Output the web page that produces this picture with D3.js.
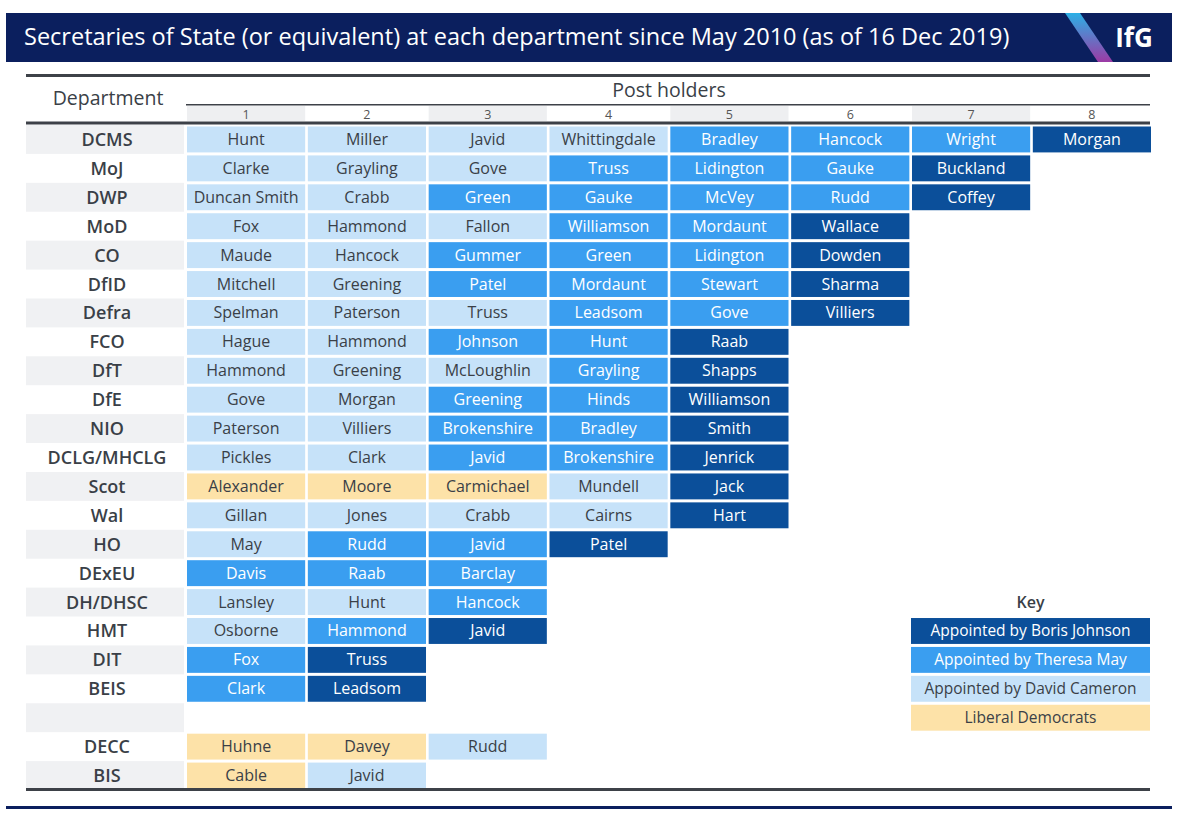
<!DOCTYPE html>
<html>
<head>
<meta charset="utf-8">
<script src="https://cdn.jsdelivr.net/npm/d3@7"></script>
<style>
  body { margin: 0; background: #fff; }
  svg { display: block; font-family: "Open Sans", sans-serif; }
</style>
</head>
<body>
<svg id="chart" width="1200" height="817"></svg>
<script>
// Departments, top to bottom ("" is the spacer row)
const departments = ["DCMS", "MoJ", "DWP", "MoD", "CO", "DfID", "Defra", "FCO", "DfT", "DfE",
  "NIO", "DCLG/MHCLG", "Scot", "Wal", "HO", "DExEU", "DH/DHSC", "HMT", "DIT", "BEIS", "", "DECC", "BIS"];

// Post holders per department, in order
const holders = [
  ["Hunt", "Miller", "Javid", "Whittingdale", "Bradley", "Hancock", "Wright", "Morgan"],
  ["Clarke", "Grayling", "Gove", "Truss", "Lidington", "Gauke", "Buckland"],
  ["Duncan Smith", "Crabb", "Green", "Gauke", "McVey", "Rudd", "Coffey"],
  ["Fox", "Hammond", "Fallon", "Williamson", "Mordaunt", "Wallace"],
  ["Maude", "Hancock", "Gummer", "Green", "Lidington", "Dowden"],
  ["Mitchell", "Greening", "Patel", "Mordaunt", "Stewart", "Sharma"],
  ["Spelman", "Paterson", "Truss", "Leadsom", "Gove", "Villiers"],
  ["Hague", "Hammond", "Johnson", "Hunt", "Raab"],
  ["Hammond", "Greening", "McLoughlin", "Grayling", "Shapps"],
  ["Gove", "Morgan", "Greening", "Hinds", "Williamson"],
  ["Paterson", "Villiers", "Brokenshire", "Bradley", "Smith"],
  ["Pickles", "Clark", "Javid", "Brokenshire", "Jenrick"],
  ["Alexander", "Moore", "Carmichael", "Mundell", "Jack"],
  ["Gillan", "Jones", "Crabb", "Cairns", "Hart"],
  ["May", "Rudd", "Javid", "Patel"],
  ["Davis", "Raab", "Barclay"],
  ["Lansley", "Hunt", "Hancock"],
  ["Osborne", "Hammond", "Javid"],
  ["Fox", "Truss"],
  ["Clark", "Leadsom"],
  [],
  ["Huhne", "Davey", "Rudd"],
  ["Cable", "Javid"]
];

// Who appointed each holder: B = Johnson, M = May, C = Cameron, L = Liberal Democrat
const appointedBy = [
  ["C", "C", "C", "C", "M", "M", "M", "B"],
  ["C", "C", "C", "M", "M", "M", "B"],
  ["C", "C", "M", "M", "M", "M", "B"],
  ["C", "C", "C", "M", "M", "B"],
  ["C", "C", "M", "M", "M", "B"],
  ["C", "C", "M", "M", "M", "B"],
  ["C", "C", "C", "M", "M", "B"],
  ["C", "C", "M", "M", "B"],
  ["C", "C", "C", "M", "B"],
  ["C", "C", "M", "M", "B"],
  ["C", "C", "M", "M", "B"],
  ["C", "C", "M", "M", "B"],
  ["L", "L", "L", "C", "B"],
  ["C", "C", "C", "C", "B"],
  ["C", "M", "M", "B"],
  ["M", "M", "M"],
  ["C", "C", "M"],
  ["C", "M", "B"],
  ["M", "B"],
  ["M", "B"],
  [],
  ["L", "L", "C"],
  ["L", "C"]
];

const postNumbers = [1, 2, 3, 4, 5, 6, 7, 8];

const keyCodes = ["B", "M", "C", "L"];
const keyLabels = ["Appointed by Boris Johnson", "Appointed by Theresa May", "Appointed by David Cameron", "Liberal Democrats"];

const fill = d3.scaleOrdinal().domain(keyCodes).range(["#0b4f9a", "#3a9ef0", "#c6e2f9", "#fde2a8"]);
const textFill = d3.scaleOrdinal().domain(keyCodes).range(["#ffffff", "#ffffff", "#3a3f47", "#3a3f47"]);

const svg = d3.select("#chart");

// title bar
svg.append("rect").attr("x", 6).attr("y", 13).attr("width", 1166).attr("height", 49).attr("fill", "#0b1f5e");
svg.append("text").attr("x", 24).attr("y", 45)
  .attr("fill", "#fff").attr("font-size", 23.5)
  .text("Secretaries of State (or equivalent) at each department since May 2010 (as of 16 Dec 2019)");

// logo
const grad = svg.append("defs").append("linearGradient").attr("id", "stripe")
  .attr("x1", 0).attr("y1", 0).attr("x2", 0).attr("y2", 1);
grad.append("stop").attr("offset", "0%").attr("stop-color", "#2bb0e6");
grad.append("stop").attr("offset", "100%").attr("stop-color", "#9c3aa5");
svg.append("path").attr("d", "M1065,13 L1080,13 L1113,62 L1098,62 Z").attr("fill", "url(#stripe)");
svg.append("text").attr("x", 1134).attr("y", 47).attr("text-anchor", "middle")
  .attr("fill", "#fff").attr("font-size", 26).attr("font-weight", 700).text("IfG");

// scales
const x = d3.scaleBand().domain(postNumbers).range([187, 1151]).paddingInner(0.022);
const y = d3.scaleBand().domain(d3.range(departments.length)).range([125, 790]);
const rowH = y.bandwidth();

// header
svg.append("text").attr("x", 108).attr("y", 105).attr("text-anchor", "middle")
  .attr("fill", "#3a3f47").attr("font-size", 19.5).attr("font-weight", 500).text("Department");
svg.append("text").attr("x", 669).attr("y", 97).attr("text-anchor", "middle")
  .attr("fill", "#3a3f47").attr("font-size", 19.5).attr("font-weight", 500).text("Post holders");

svg.selectAll(".numbg").data(postNumbers.filter(d => d % 2 === 1)).enter().append("rect")
  .attr("x", d => x(d)).attr("y", 106).attr("width", x.bandwidth()).attr("height", 15)
  .attr("fill", "#eeeff1");
svg.selectAll(".num").data(postNumbers).enter().append("text")
  .attr("x", d => x(d) + x.bandwidth() / 2).attr("y", 119).attr("text-anchor", "middle")
  .attr("fill", "#555").attr("font-size", 12.5).text(d => d);

// row label bands
svg.selectAll(".band").data(departments.map((d, i) => i).filter(i => i % 2 === 0)).enter().append("rect")
  .attr("x", 26).attr("y", i => y(i)).attr("width", 158).attr("height", rowH)
  .attr("fill", "#f0f1f3");
svg.selectAll(".dept").data(departments).enter().append("text")
  .attr("x", 107).attr("y", (d, i) => y(i) + rowH / 2 + 6.5).attr("text-anchor", "middle")
  .attr("fill", "#3a3f47").attr("font-size", 18).attr("font-weight", 600).text(d => d);

// cells
const cells = [];
holders.forEach((row, i) => row.forEach((name, j) => cells.push({ row: i, col: j + 1, name: name, code: appointedBy[i][j] })));

const g = svg.selectAll(".cell").data(cells).enter().append("g");
g.append("rect")
  .attr("x", d => x(d.col)).attr("y", d => y(d.row) + 1.5)
  .attr("width", x.bandwidth()).attr("height", rowH - 3)
  .attr("fill", d => fill(d.code));
g.append("text")
  .attr("x", d => x(d.col) + x.bandwidth() / 2).attr("y", d => y(d.row) + rowH / 2 + 5.5)
  .attr("text-anchor", "middle").attr("font-size", 16)
  .attr("fill", d => textFill(d.code)).text(d => d.name);

// rules
svg.append("rect").attr("x", 26).attr("y", 74).attr("width", 1124).attr("height", 3).attr("fill", "#3d4148");
svg.append("rect").attr("x", 186).attr("y", 104).attr("width", 964).attr("height", 1.5).attr("fill", "#3d4148");
svg.append("rect").attr("x", 26).attr("y", 121.5).attr("width", 1124).attr("height", 3).attr("fill", "#3d4148");
svg.append("rect").attr("x", 26).attr("y", 788).attr("width", 1124).attr("height", 3).attr("fill", "#3d4148");
svg.append("rect").attr("x", 6).attr("y", 806).attr("width", 1166).attr("height", 3).attr("fill", "#0b1f5e");

// key
const keyX = 911, keyW = 239;
svg.append("text").attr("x", keyX + keyW / 2).attr("y", y(16) + rowH / 2 + 6).attr("text-anchor", "middle")
  .attr("fill", "#3a3f47").attr("font-size", 16).attr("font-weight", 600).text("Key");
const kg = svg.selectAll(".key").data(keyCodes).enter().append("g");
kg.append("rect").attr("x", keyX).attr("y", (d, i) => y(17 + i) + 1.5)
  .attr("width", keyW).attr("height", rowH - 3).attr("fill", d => fill(d));
kg.append("text").attr("x", keyX + keyW / 2).attr("y", (d, i) => y(17 + i) + rowH / 2 + 5.5)
  .attr("text-anchor", "middle").attr("font-size", 15.5).attr("fill", d => textFill(d))
  .text((d, i) => keyLabels[i]);
</script>
</body>
</html>
